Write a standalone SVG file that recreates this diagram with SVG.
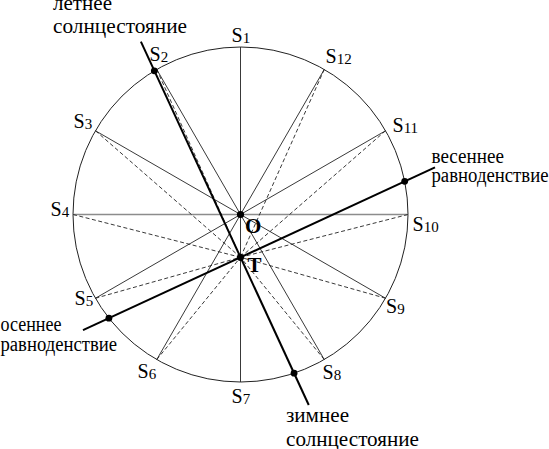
<svg xmlns="http://www.w3.org/2000/svg" width="549" height="449" viewBox="0 0 549 449">
<style>
.c{fill:none;stroke:#222;stroke-width:1}
.s{stroke:#222;stroke-width:0.9;fill:none}
.d{stroke:#222;stroke-width:0.9;stroke-dasharray:4 2.5;fill:none}
.h{stroke:#8c8c8c;stroke-width:1.6}
.k{stroke:#000;stroke-width:2;fill:none}
.dot{fill:#000}
text{font-family:"Liberation Serif","Times New Roman",serif;fill:#000;font-size:20px}
.ru{font-size:20.5px}
.sub{font-size:15px}
.b{font-size:21px;font-weight:bold}
</style>
<rect width="549" height="449" fill="#fff"/>
<g id="circle"><circle class="c" cx="240.5" cy="214.5" r="167.5"/></g>
<g id="connectors">
  <line class="s" x1="240.5" y1="47" x2="240.5" y2="382"/>
  <line class="s" x1="156.75" y1="69.44" x2="324.25" y2="359.56"/>
  <line class="s" x1="95.44" y1="130.75" x2="385.56" y2="298.25"/>
  <line class="h" x1="73" y1="214.5" x2="408" y2="214.5"/>
  <line class="s" x1="95.44" y1="298.25" x2="385.56" y2="130.75"/>
  <line class="s" x1="156.75" y1="359.56" x2="324.25" y2="69.44"/>
  <line class="d" x1="156.75" y1="69.44" x2="240.5" y2="257.3"/>
  <line class="d" x1="95.44" y1="130.75" x2="240.5" y2="257.3"/>
  <line class="d" x1="73" y1="214.5" x2="240.5" y2="257.3"/>
  <line class="d" x1="95.44" y1="298.25" x2="240.5" y2="257.3"/>
  <line class="d" x1="156.75" y1="359.56" x2="240.5" y2="257.3"/>
  <line class="d" x1="324.25" y1="359.56" x2="240.5" y2="257.3"/>
  <line class="d" x1="385.56" y1="298.25" x2="240.5" y2="257.3"/>
  <line class="d" x1="408" y1="214.5" x2="240.5" y2="257.3"/>
  <line class="d" x1="385.56" y1="130.75" x2="240.5" y2="257.3"/>
  <line class="d" x1="324.25" y1="69.44" x2="240.5" y2="257.3"/>
  <line class="k" x1="140.9" y1="41.7" x2="308.75" y2="405"/>
  <line class="k" x1="83" y1="330.2" x2="435" y2="167.3"/>
</g>
<g id="O"><circle class="dot" cx="240.5" cy="214.5" r="3.6"/><text class="b" x="245" y="233">O</text></g>
<g id="T"><circle class="dot" cx="240.5" cy="257.3" r="3.6"/><text class="b" x="247.5" y="272">T</text></g>
<g id="summer-solstice"><circle class="dot" cx="154.3" cy="70.85" r="3.4"/><text class="ru" x="53" y="9.5" textLength="59" lengthAdjust="spacingAndGlyphs">летнее</text><text class="ru" x="53" y="33" textLength="134" lengthAdjust="spacingAndGlyphs">солнцестояние</text></g>
<g id="winter-solstice"><circle class="dot" cx="294.06" cy="373.2" r="3.4"/><text class="ru" x="286" y="422" textLength="63" lengthAdjust="spacingAndGlyphs">зимнее</text><text class="ru" x="286" y="445.5" textLength="133" lengthAdjust="spacingAndGlyphs">солнцестояние</text></g>
<g id="spring-equinox"><circle class="dot" cx="404.7" cy="181.3" r="3.4"/><text class="ru" x="431.5" y="163" textLength="72.5" lengthAdjust="spacingAndGlyphs">весеннее</text><text class="ru" x="431.5" y="181.5" textLength="117" lengthAdjust="spacingAndGlyphs">равноденствие</text></g>
<g id="autumn-equinox"><circle class="dot" cx="108.9" cy="318.2" r="3.4"/><text class="ru" x="0.5" y="331" textLength="61" lengthAdjust="spacingAndGlyphs">осеннее</text><text class="ru" x="0.5" y="351" textLength="116.5" lengthAdjust="spacingAndGlyphs">равноденствие</text></g>
<g id="S1"><text x="231.5" y="41.5">S<tspan class="sub" dy="1">1</tspan></text></g>
<g id="S2"><text x="149.5" y="61">S<tspan class="sub" dy="1">2</tspan></text></g>
<g id="S3"><text x="73.5" y="128">S<tspan class="sub" dy="1">3</tspan></text></g>
<g id="S4"><text x="50.5" y="215.5">S<tspan class="sub" dy="1">4</tspan></text></g>
<g id="S5"><text x="74.5" y="305">S<tspan class="sub" dy="1">5</tspan></text></g>
<g id="S6"><text x="137.5" y="377.5">S<tspan class="sub" dy="1">6</tspan></text></g>
<g id="S7"><text x="231.5" y="403">S<tspan class="sub" dy="1">7</tspan></text></g>
<g id="S8"><text x="322.5" y="379">S<tspan class="sub" dy="1">8</tspan></text></g>
<g id="S9"><text x="386" y="312.5">S<tspan class="sub" dy="1">9</tspan></text></g>
<g id="S10"><text x="412.5" y="231">S<tspan class="sub" dy="1">10</tspan></text></g>
<g id="S11"><text x="392.5" y="131.5">S<tspan class="sub" dy="1">11</tspan></text></g>
<g id="S12"><text x="325.5" y="63">S<tspan class="sub" dy="1">12</tspan></text></g>
</svg>
